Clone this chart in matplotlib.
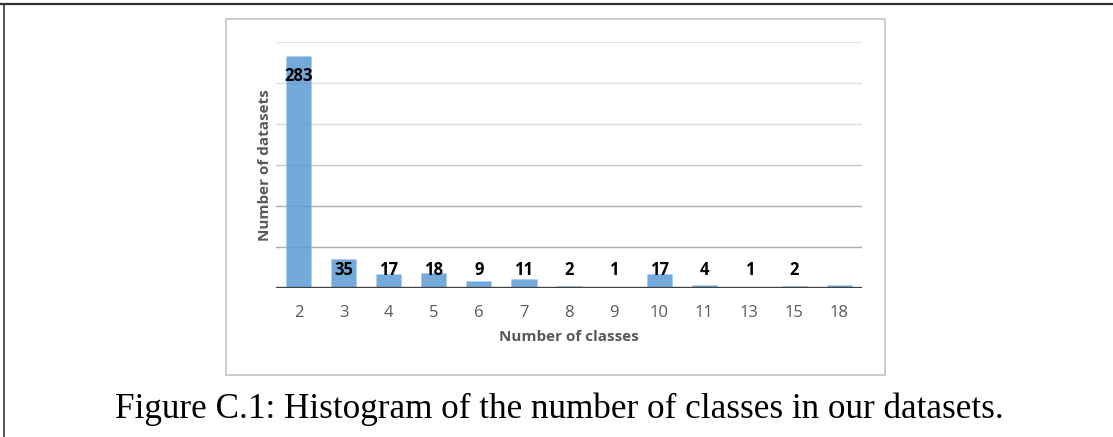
import numpy as np
import matplotlib.pyplot as plt
from matplotlib.lines import Line2D
from matplotlib.patches import Rectangle

classes = ['2', '3', '4', '5', '6', '7', '8', '9', '10', '11', '13', '15', '18']
counts = [283, 35, 17, 18, 9, 11, 2, 1, 17, 4, 1, 2, 4]
labels = ['283', '35', '17', '18', '9', '11', '2', '1', '17', '4', '1', '2', '']

W, H = 1113, 437
fig = plt.figure(figsize=(W / 100, H / 100), dpi=100)

# outer page frame (top and left only) and the chart's grey box
fig.add_artist(Line2D([0, 1], [1 - 4 / H, 1 - 4 / H], color='#333333', lw=1.6))
fig.add_artist(Line2D([4 / W, 4 / W], [0, 1 - 4 / H], color='#333333', lw=1.2))
fig.add_artist(Rectangle((226 / W, 1 - 375 / H), (885 - 226) / W, (375 - 19) / H,
                         fill=False, ec='#c8c8c8', lw=1.3))

ax = fig.add_axes([276 / W, 1 - 288 / H, (862 - 276) / W, (288 - 42) / H])
x = np.arange(len(classes))
ax.set_xlim(-0.5, len(classes) - 0.5)
ax.set_ylim(0, 300)

grid_cols = {50: '#a9a9a9', 100: '#b0b0b0', 150: '#c4c4c4', 200: '#dcdcdc', 250: '#e0e0e0', 300: '#e4e4e4'}
for yv, c in grid_cols.items():
    ax.axhline(yv, color=c, lw=1, zorder=1)

ax.bar(x, counts, width=0.56, color='#5b9bd5', alpha=0.85, ec='#a9cbea', lw=0.4, zorder=2)

for xi, v, lab in zip(x, counts, labels):
    if lab:
        ax.text(xi, max(v - 25, 22), lab, ha='center', va='center', fontsize=12,
                fontweight='bold', family='Open Sans', color='black', zorder=4)

ax.axhline(0, color='#404040', lw=2.4, zorder=3)
for s in ax.spines.values():
    s.set_visible(False)
ax.set_yticks([])
ax.set_xticks(x)
ax.set_xticklabels(classes, fontsize=12, color='#595959', family='Open Sans')
ax.tick_params(axis='x', length=0, pad=12)
ax.set_xlabel('Number of classes', fontsize=11, fontweight='bold', color='#595959',
              family='Open Sans', labelpad=7)
ax.set_ylabel('Number of datasets', fontsize=11, fontweight='bold', color='#595959',
              family='Open Sans', labelpad=3)

cap = fig.text(559 / W, 1 - 418 / H, 'Figure C.1: Histogram of the number of classes in our datasets.',
               ha='center', va='baseline', fontsize=21, family='Liberation Serif', color='black')
fig.canvas.draw()
w = cap.get_window_extent().width
cap.set_fontsize(21 * 885 / w)

fig.savefig('out.png', dpi=100)
